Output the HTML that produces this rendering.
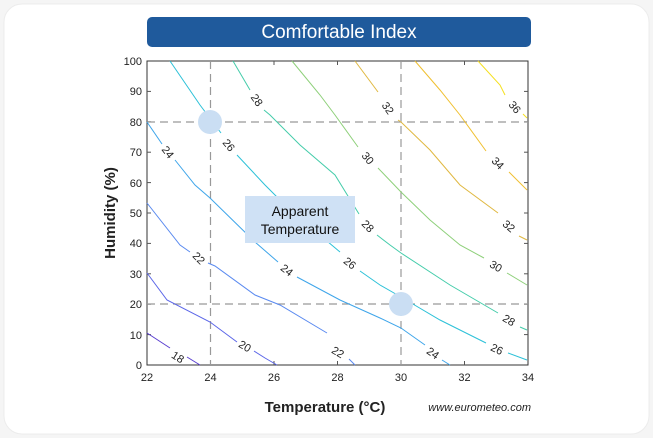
<!DOCTYPE html>
<html><head><meta charset="utf-8"><style>
body{margin:0;background:#f4f4f4;}
svg{display:block;font-family:"Liberation Sans",sans-serif;}
</style></head><body>
<svg width="653" height="438" viewBox="0 0 653 438" xmlns="http://www.w3.org/2000/svg">
<rect x="0" y="0" width="653" height="438" fill="#f5f5f5"/>
<rect x="4" y="4" width="645" height="430" rx="18" fill="#fff" stroke="#ececec"/>
<rect x="147" y="17" width="384" height="30" rx="5" fill="#1f5a9c"/>
<text x="339" y="38" font-size="19" fill="#fff" text-anchor="middle">Comfortable Index</text>
<!-- axes box -->
<rect x="147" y="61" width="381" height="304" fill="#fff" stroke="#333" stroke-width="1"/>
<g stroke="#555" stroke-width="1">
<line x1="210.5" y1="61" x2="210.5" y2="65"/><line x1="274" y1="61" x2="274" y2="65"/><line x1="337.5" y1="61" x2="337.5" y2="65"/><line x1="401" y1="61" x2="401" y2="65"/><line x1="464.5" y1="61" x2="464.5" y2="65"/>
<line x1="210.5" y1="365" x2="210.5" y2="361"/><line x1="274" y1="365" x2="274" y2="361"/><line x1="337.5" y1="365" x2="337.5" y2="361"/><line x1="401" y1="365" x2="401" y2="361"/><line x1="464.5" y1="365" x2="464.5" y2="361"/>
<line x1="147" y1="91.4" x2="151" y2="91.4"/><line x1="147" y1="121.8" x2="151" y2="121.8"/><line x1="147" y1="152.2" x2="151" y2="152.2"/><line x1="147" y1="182.6" x2="151" y2="182.6"/><line x1="147" y1="213" x2="151" y2="213"/><line x1="147" y1="243.4" x2="151" y2="243.4"/><line x1="147" y1="273.8" x2="151" y2="273.8"/><line x1="147" y1="304.2" x2="151" y2="304.2"/><line x1="147" y1="334.6" x2="151" y2="334.6"/>
<line x1="528" y1="91.4" x2="524" y2="91.4"/><line x1="528" y1="121.8" x2="524" y2="121.8"/><line x1="528" y1="152.2" x2="524" y2="152.2"/><line x1="528" y1="182.6" x2="524" y2="182.6"/><line x1="528" y1="213" x2="524" y2="213"/><line x1="528" y1="243.4" x2="524" y2="243.4"/><line x1="528" y1="273.8" x2="524" y2="273.8"/><line x1="528" y1="304.2" x2="524" y2="304.2"/><line x1="528" y1="334.6" x2="524" y2="334.6"/>
</g>
<g font-size="11" fill="#222" text-anchor="end">
<text x="142" y="65">100</text><text x="142" y="95">90</text><text x="142" y="126">80</text><text x="142" y="156">70</text><text x="142" y="187">60</text><text x="142" y="217">50</text><text x="142" y="247">40</text><text x="142" y="278">30</text><text x="142" y="308">20</text><text x="142" y="339">10</text><text x="142" y="369">0</text>
</g>
<g font-size="11" fill="#222" text-anchor="middle">
<text x="147" y="381">22</text><text x="210.5" y="381">24</text><text x="274" y="381">26</text><text x="337.5" y="381">28</text><text x="401" y="381">30</text><text x="464.5" y="381">32</text><text x="528" y="381">34</text>
</g>
<text x="325" y="412" font-size="15" font-weight="bold" fill="#222" text-anchor="middle">Temperature (°C)</text>
<text transform="translate(115,213) rotate(-90)" font-size="15" font-weight="bold" fill="#222" text-anchor="middle">Humidity (%)</text>
<text x="531" y="411" font-size="11" font-style="italic" fill="#222" text-anchor="end">www.eurometeo.com</text>
<!-- dashed guides -->
<g stroke="#999" stroke-width="1.2" stroke-dasharray="8,5" fill="none">
<line x1="210.5" y1="61" x2="210.5" y2="365"/><line x1="401" y1="61" x2="401" y2="365"/>
<line x1="147" y1="122" x2="528" y2="122"/><line x1="147" y1="304" x2="528" y2="304"/>
</g>
<!-- contours -->
<g fill="none" stroke-width="1">
<polyline stroke="#5a3fd0" points="147,333 170,348"/><polyline stroke="#5a3fd0" points="187,357 200,365"/>
<polyline stroke="#5b66e8" points="147,273 167,300 210,322 237,342"/><polyline stroke="#5b66e8" points="254,351 265,358 277,365"/>
<polyline stroke="#5a8af0" points="147,203 180,245 190,252"/><polyline stroke="#5a8af0" points="208,263 215,266 255,295 280,305 327,333"/><polyline stroke="#5a8af0" points="349,359 355,365"/>
<polyline stroke="#3ea5ea" points="147,122 162,144"/><polyline stroke="#3ea5ea" points="175,160 195,185 210,198 255,242 278,262"/><polyline stroke="#3ea5ea" points="297,277 340,300 380,318 401,328 425,345"/><polyline stroke="#3ea5ea" points="442,360 450,365"/>
<polyline stroke="#2cc1d8" points="170,61 200,105 221,133"/><polyline stroke="#2cc1d8" points="237,155 265,185 290,210 340,252"/><polyline stroke="#2cc1d8" points="360,271 380,285 401,297 440,320 486,343"/><polyline stroke="#2cc1d8" points="508,353 527,360"/>
<polyline stroke="#44ccaa" points="233,61 250,90"/><polyline stroke="#44ccaa" points="264,110 270,115 300,145 335,175 359,214"/><polyline stroke="#44ccaa" points="377,235 390,245 401,253 450,285 498,313"/><polyline stroke="#44ccaa" points="520,327 527,330"/>
<polyline stroke="#8ed07a" points="292,61 320,95 335,115 358,147"/><polyline stroke="#8ed07a" points="378,168 401,192 430,220 460,245 484,258"/><polyline stroke="#8ed07a" points="507,273 527,285"/>
<polyline stroke="#e0b840" points="355,61 378,92"/><polyline stroke="#e0b840" points="398,120 401,122 430,150 460,185 498,213"/><polyline stroke="#e0b840" points="519,236 527,240"/>
<polyline stroke="#f0c030" points="415,61 440,90 460,115 486,151"/><polyline stroke="#f0c030" points="509,172 515,178 527,190"/>
<polyline stroke="#f5e020" points="478,61 500,85 505,95"/><polyline stroke="#f5e020" points="523,114 527,118"/>
</g>
<g font-size="11" fill="#222" text-anchor="middle">
<text transform="translate(178,357) rotate(33)" y="4">18</text>
<text transform="translate(245,346) rotate(30)" y="4">20</text>
<text transform="translate(199,258) rotate(45)" y="4">22</text>
<text transform="translate(338,352) rotate(30)" y="4">22</text>
<text transform="translate(168,152) rotate(52)" y="4">24</text>
<text transform="translate(287,270) rotate(38)" y="4">24</text>
<text transform="translate(433,353) rotate(35)" y="4">24</text>
<text transform="translate(229,145) rotate(50)" y="4">26</text>
<text transform="translate(350,263) rotate(38)" y="4">26</text>
<text transform="translate(497,349) rotate(25)" y="4">26</text>
<text transform="translate(257,100) rotate(55)" y="4">28</text>
<text transform="translate(368,226) rotate(45)" y="4">28</text>
<text transform="translate(509,320) rotate(30)" y="4">28</text>
<text transform="translate(368,158) rotate(50)" y="4">30</text>
<text transform="translate(496,266) rotate(30)" y="4">30</text>
<text transform="translate(388,108) rotate(55)" y="4">32</text>
<text transform="translate(509,226) rotate(40)" y="4">32</text>
<text transform="translate(498,163) rotate(45)" y="4">34</text>
<text transform="translate(515,107) rotate(50)" y="4">36</text>
</g>
<circle cx="210" cy="122" r="12" fill="#cadef3"/>
<circle cx="401" cy="304" r="12" fill="#cadef3"/>
<rect x="245" y="196" width="110" height="47" fill="#cfe1f5"/>
<text x="300" y="216" font-size="14" fill="#111" text-anchor="middle">Apparent</text>
<text x="300" y="234" font-size="14" fill="#111" text-anchor="middle">Temperature</text>
</svg>
</body></html>
